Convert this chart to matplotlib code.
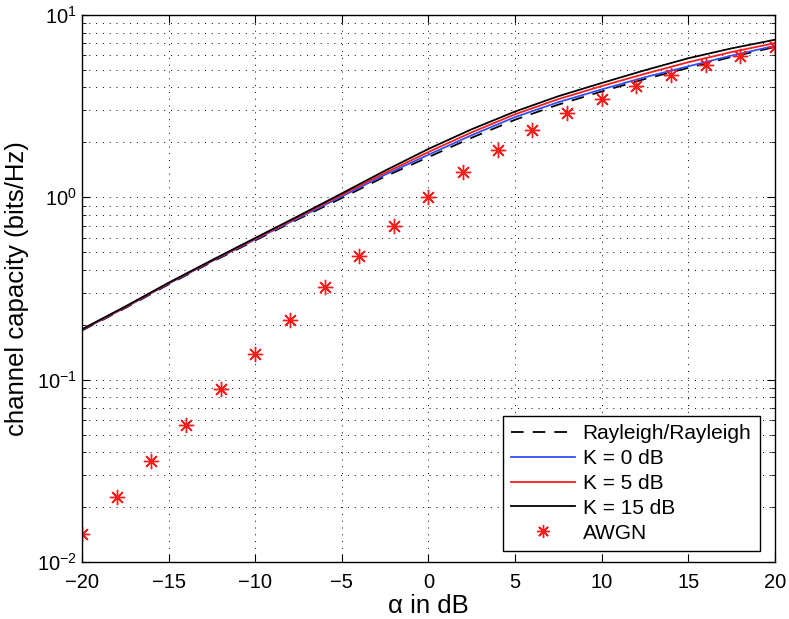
import matplotlib
matplotlib.use("Agg")
import matplotlib.pyplot as plt
from matplotlib.ticker import LogLocator, NullFormatter, MultipleLocator

plt.rcParams['font.family'] = ['Liberation Sans', 'DejaVu Sans']
plt.rcParams['mathtext.fontset'] = 'custom'
plt.rcParams['mathtext.rm'] = 'Liberation Sans'
plt.rcParams['mathtext.it'] = 'Liberation Sans:italic'

# alpha in dB, sampled every 2.5 dB for the fading curves
alpha_db = [-20, -17.5, -15, -12.5, -10, -7.5, -5, -2.5, 0,
            2.5, 5, 7.5, 10, 12.5, 15, 17.5, 20]

cap_rayleigh = [0.186, 0.247, 0.333, 0.442, 0.580, 0.76, 0.99, 1.30, 1.66,
                2.12, 2.66, 3.22, 3.80, 4.45, 5.12, 5.88, 6.66]
cap_k0 = [0.187, 0.249, 0.336, 0.446, 0.587, 0.77, 1.01, 1.33, 1.71,
          2.19, 2.75, 3.32, 3.90, 4.55, 5.22, 5.98, 6.76]
cap_k5 = [0.188, 0.250, 0.338, 0.449, 0.592, 0.78, 1.03, 1.36, 1.77,
          2.27, 2.85, 3.45, 4.07, 4.75, 5.50, 6.25, 7.00]
cap_k15 = [0.189, 0.252, 0.340, 0.452, 0.598, 0.79, 1.05, 1.40, 1.84,
           2.36, 2.95, 3.58, 4.23, 4.97, 5.78, 6.55, 7.30]

# AWGN markers every 2 dB
awgn_db = [-20, -18, -16, -14, -12, -10, -8, -6, -4, -2, 0,
           2, 4, 6, 8, 10, 12, 14, 16, 18, 20]
cap_awgn = [0.0143, 0.0227, 0.0359, 0.0566, 0.0885, 0.1375, 0.2115, 0.3208,
            0.4779, 0.6954, 1.0, 1.3758, 1.8193, 2.3249, 2.8808, 3.4594,
            4.0641, 4.6770, 5.3264, 5.9798, 6.6582]

fig = plt.figure(figsize=(7.89, 6.19), dpi=100)
ax = fig.add_axes([0.104, 0.092, 0.878, 0.884])

ax.semilogy(alpha_db, cap_rayleigh, color='k', ls=(0, (7, 5)), lw=1.3,
            label='Rayleigh/Rayleigh')
ax.semilogy(alpha_db, cap_k0, color='#2f4fff', lw=1.3, label='K = 0 dB')
ax.semilogy(alpha_db, cap_k5, color='#ff1a1a', lw=1.3, label='K = 5 dB')
ax.semilogy(alpha_db, cap_k15, color='k', lw=1.3, label='K = 15 dB')
ax.semilogy(awgn_db, cap_awgn, ls='none', marker=(8, 2, 0), ms=11,
            mew=1.0, color='#ff1a1a', label='AWGN')

ax.set_xlim(-20, 20)
ax.set_ylim(1e-2, 1e1)
ax.xaxis.set_major_locator(MultipleLocator(5))
ax.yaxis.set_major_locator(LogLocator(base=10))
ax.yaxis.set_minor_locator(LogLocator(base=10, subs=range(2, 10)))
ax.yaxis.set_minor_formatter(NullFormatter())

grid_style = dict(color='k', ls=(0, (1, 6)), lw=0.7)
ax.grid(True, which='major', axis='both', **grid_style)
ax.grid(True, which='minor', axis='y', **grid_style)

ax.tick_params(which='both', direction='in', top=True, right=True,
               labelsize=14.5)
ax.tick_params(which='major', length=6)
ax.tick_params(which='minor', length=3)
ax.tick_params(axis='x', pad=8)
for s in ax.spines.values():
    s.set_linewidth(1.0)

ax.set_xlabel('α in dB', fontsize=18.5, labelpad=1)
ax.set_ylabel('channel capacity (bits/Hz)', fontsize=18.5, labelpad=6)

leg = ax.legend(loc='lower right', bbox_to_anchor=(0.963, 0.110),
                bbox_transform=fig.transFigure, borderaxespad=0,
                fontsize=15, handlelength=3.1, handletextpad=0.35,
                fancybox=False, framealpha=1, edgecolor='k',
                labelspacing=0.28, borderpad=0.4, markerscale=0.85)
leg.get_frame().set_linewidth(1.0)

fig.savefig('out.png', dpi=100)
